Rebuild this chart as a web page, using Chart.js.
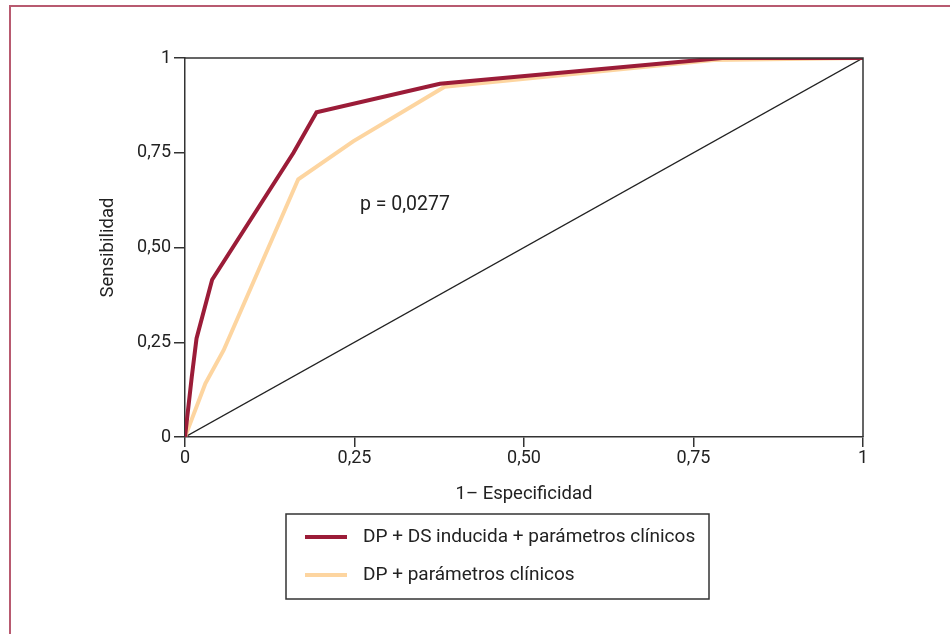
<!DOCTYPE html>
<html>
<head>
<meta charset="utf-8">
<script src="https://cdn.jsdelivr.net/npm/chart.js@4/dist/chart.umd.min.js"></script>
<style>
  html, body { margin: 0; padding: 0; background: #fff; }
  #wrap { position: relative; width: 950px; height: 634px; }
  #frame { position: absolute; left: 9px; top: 5px; right: 0; bottom: 0;
           border-left: 2px solid #b85a70; border-top: 2px solid #b85a70; pointer-events: none; }
  canvas { display: block; }
</style>
</head>
<body>
<div id="wrap">
  <canvas id="roc" width="950" height="634"></canvas>
  <div id="frame"></div>
</div>
<script>
/* ===== DATA ===== */
const seriesLabels = ["DP + DS inducida + parámetros clínicos", "DP + parámetros clínicos"];
const seriesColors = ["#9b1c38", "#fdd5a0"];

// 1 - especificidad / sensibilidad
const fprA = [0, 0.01, 0.017, 0.04, 0.16, 0.194, 0.376, 0.792, 1];
const tprA = [0, 0.159, 0.26, 0.415, 0.75, 0.857, 0.932, 1, 1];

const fprB = [0, 0.03, 0.057, 0.167, 0.248, 0.383, 0.78, 1];
const tprB = [0, 0.141, 0.229, 0.68, 0.78, 0.924, 0.995, 1];

const diagX = [0, 1];
const diagY = [0, 1];

const tickValues = [0, 0.25, 0.5, 0.75, 1];
const tickLabels = ["0", "0,25", "0,50", "0,75", "1"];

const pText = "p = 0,0277";
const pPos = { x: 0.258, y: 0.613 };

const FONT = "Roboto, sans-serif";
const INK = "#333";

const toPts = (xs, ys) => xs.map((x, i) => ({ x, y: ys[i] }));

/* ===== PLUGINS ===== */
const boxPlugin = {
  id: "box",
  afterDatasetsDraw(chart) {
    const { ctx, chartArea: a } = chart;
    ctx.save();
    ctx.strokeStyle = INK;
    ctx.lineWidth = 1.5;
    ctx.beginPath();
    ctx.moveTo(a.left, a.top);
    ctx.lineTo(a.right, a.top);
    ctx.lineTo(a.right, a.bottom);
    ctx.stroke();

    // p value
    const xs = chart.scales.x, ys = chart.scales.y;
    ctx.fillStyle = "#222";
    ctx.font = "19.5px " + FONT;
    ctx.textBaseline = "middle";
    ctx.textAlign = "left";
    ctx.fillText(pText, xs.getPixelForValue(pPos.x), ys.getPixelForValue(pPos.y));
    ctx.restore();
  }
};

const legendBoxPlugin = {
  id: "legendBox",
  afterDraw(chart) {
    const { ctx } = chart;
    const left = 286, top = 514, w = 423, h = 85;
    ctx.save();
    ctx.strokeStyle = INK;
    ctx.lineWidth = 1.5;
    ctx.strokeRect(left, top, w, h);
    ctx.font = "19px " + FONT;
    ctx.textBaseline = "middle";
    ctx.fillStyle = "#222";
    chart.data.datasets.slice(0, 2).forEach((ds, i) => {
      const y = top + 23 + i * 38;
      ctx.strokeStyle = ds.borderColor;
      ctx.lineWidth = 4;
      ctx.beginPath();
      ctx.moveTo(left + 19, y);
      ctx.lineTo(left + 61, y);
      ctx.stroke();
      ctx.fillText(ds.label, left + 77, y);
    });
    ctx.restore();
  }
};

/* ===== CHART ===== */
new Chart(document.getElementById("roc"), {
  type: "scatter",
  data: {
    datasets: [
      { label: seriesLabels[0], data: toPts(fprA, tprA), showLine: true,
        borderColor: seriesColors[0], borderWidth: 4, pointRadius: 0, order: 1 },
      { label: seriesLabels[1], data: toPts(fprB, tprB), showLine: true,
        borderColor: seriesColors[1], borderWidth: 4, pointRadius: 0, order: 2 },
      { label: "diag", data: toPts(diagX, diagY), showLine: true,
        borderColor: "#222", borderWidth: 1.3, pointRadius: 0, order: 3 }
    ]
  },
  options: {
    responsive: false,
    animation: false,
    layout: { padding: { left: 97, right: 87, top: 58, bottom: 129 } },
    plugins: { legend: { display: false }, tooltip: { enabled: false } },
    scales: {
      x: {
        type: "linear", min: 0, max: 1,
        afterBuildTicks: s => { s.ticks = tickValues.map(v => ({ value: v })); },
        afterFit: s => { s.height = 68; },
        ticks: {
          callback: (v) => tickLabels[tickValues.indexOf(v)],
          color: "#222", padding: 1, maxRotation: 0,
          font: { family: FONT, size: 18 }
        },
        grid: { drawOnChartArea: false, drawTicks: true, tickLength: 10, color: INK, lineWidth: 1.5 },
        border: { display: true, color: INK, width: 1.5 },
        title: { display: true, text: "1– Especificidad", color: "#222", padding: 0,
                 font: { family: FONT, size: 18.5 } }
      },
      y: {
        type: "linear", min: 0, max: 1,
        afterBuildTicks: s => { s.ticks = tickValues.map(v => ({ value: v })); },
        afterFit: s => { s.width = 88; },
        ticks: {
          callback: (v) => tickLabels[tickValues.indexOf(v)],
          color: "#222", padding: 3,
          font: { family: FONT, size: 18 }
        },
        grid: { drawOnChartArea: false, drawTicks: true, tickLength: 11, color: INK, lineWidth: 1.5 },
        border: { display: true, color: INK, width: 1.5 },
        title: { display: true, text: "Sensibilidad", color: "#222", padding: 0,
                 font: { family: FONT, size: 18.5 } }
      }
    }
  },
  plugins: [boxPlugin, legendBoxPlugin]
});
</script>
</body>
</html>
